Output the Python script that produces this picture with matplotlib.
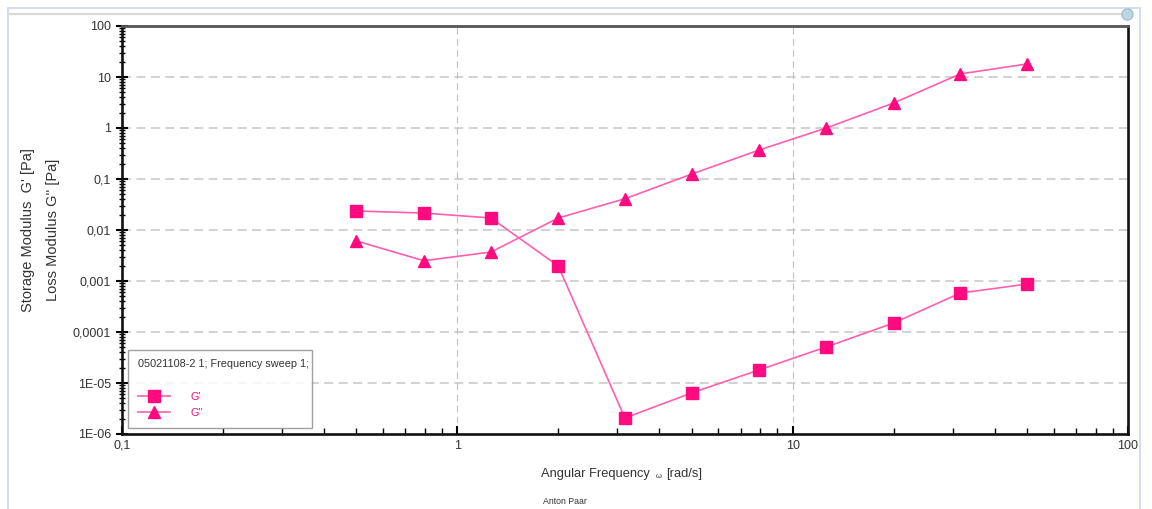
import matplotlib
matplotlib.use("Agg")
import matplotlib.pyplot as plt
from matplotlib.ticker import LogLocator, FixedLocator, FixedFormatter, NullFormatter
from matplotlib.patches import Rectangle

plt.rcParams["font.family"] = ["Liberation Sans", "DejaVu Sans"]

# Frequency sweep data
omega = [0.5, 0.794, 1.26, 2.0, 3.16, 5.0, 7.94, 12.6, 20.0, 31.6, 50.0]
g_storage = [0.0236, 0.0215, 0.0172, 0.00197, 2.06e-6, 6.4e-6, 1.8e-5, 5.1e-5, 1.5e-4, 5.8e-4, 8.7e-4]
g_loss = [0.0061, 0.0025, 0.0037, 0.0172, 0.041, 0.125, 0.37, 1.0, 3.09, 11.5, 18.0]

y_ticks = [1e-6, 1e-5, 1e-4, 1e-3, 1e-2, 1e-1, 1, 10, 100]
y_ticklabels = ["1E-06", "1E-05", "0,0001", "0,001", "0,01", "0,1", "1", "10", "100"]
x_ticks = [0.1, 1, 10, 100]
x_ticklabels = ["0,1", "1", "10", "100"]

pink = "#ff0a7f"
pink_line = "#ff5fae"
txt = "#333333"

fig = plt.figure(figsize=(11.52, 5.09), dpi=100)

# window frame around the chart
fig.patches.append(Rectangle((8 / 1152, -0.01), 1132 / 1152, 1 - 8 / 509 + 0.01,
                             transform=fig.transFigure, fill=False,
                             edgecolor="#c9d8ee", linewidth=1.2))
fig.lines.append(plt.Line2D([10 / 1152, 1125 / 1152], [1 - 14 / 509, 1 - 14 / 509],
                            transform=fig.transFigure, color="#d8d8d8", linewidth=1.5))
fig.lines.append(plt.Line2D([1127 / 1152], [1 - 14 / 509], transform=fig.transFigure,
                            marker="o", markersize=8, markerfacecolor="#bcd6e6",
                            markeredgecolor="#9fbfd3", linestyle="none"))

ax = fig.add_axes([122 / 1152, 1 - 434 / 509, 1006 / 1152, 408 / 509])
ax.set_xscale("log")
ax.set_yscale("log")
ax.set_xlim(0.1, 100)
ax.set_ylim(1e-6, 100)

ax.plot(omega, g_storage, color=pink_line, linewidth=1.2, marker="s", markersize=9,
        markerfacecolor=pink, markeredgecolor=pink, label="G'")
ax.plot(omega, g_loss, color=pink_line, linewidth=1.2, marker="^", markersize=9,
        markerfacecolor=pink, markeredgecolor=pink, label="G''")

# grid: horizontal light dashed, vertical thin dashed
for yv in y_ticks[1:-1]:
    ax.axhline(yv, color="#cfcfcf", linewidth=1.3, linestyle=(0, (5, 3)), zorder=0)
for xv in [1, 10]:
    ax.axvline(xv, color="#c0c0c0", linewidth=0.8, linestyle=(0, (6, 4)), zorder=0)

ax.yaxis.set_major_locator(FixedLocator(y_ticks))
ax.yaxis.set_major_formatter(FixedFormatter(y_ticklabels))
ax.yaxis.set_minor_locator(LogLocator(base=10, subs=range(2, 10), numticks=20))
ax.yaxis.set_minor_formatter(NullFormatter())
ax.xaxis.set_major_locator(FixedLocator(x_ticks))
ax.xaxis.set_major_formatter(FixedFormatter(x_ticklabels))
ax.xaxis.set_minor_locator(LogLocator(base=10, subs=range(2, 10), numticks=20))
ax.xaxis.set_minor_formatter(NullFormatter())

ax.tick_params(axis="y", which="major", direction="inout", length=8, width=1.5,
               labelsize=9, labelcolor=txt, pad=4)
ax.tick_params(axis="y", which="minor", direction="inout", length=4, width=1.0)
ax.tick_params(axis="x", which="major", direction="in", length=6, width=1.5,
               labelsize=9, labelcolor=txt, pad=4)
ax.tick_params(axis="x", which="minor", direction="in", length=4, width=1.0)

for side in ["left", "bottom", "right"]:
    ax.spines[side].set_linewidth(1.9)
    ax.spines[side].set_color("#111111")
ax.spines["top"].set_linewidth(2.0)
ax.spines["top"].set_color("#555555")
ax.spines["top"].set_linestyle((0, (3, 1)))

fig.text(28 / 1152, 1 - 230 / 509, "Storage Modulus  G' [Pa]", rotation=90,
         ha="center", va="center", fontsize=10.5, color=txt)
fig.text(53 / 1152, 1 - 230 / 509, "Loss Modulus G'' [Pa]", rotation=90,
         ha="center", va="center", fontsize=10.5, color=txt)
fig.text(541 / 1152, 1 - 474 / 509, "Angular Frequency", ha="left", va="center",
         fontsize=9.3, color=txt)
fig.text(656 / 1152, 1 - 476 / 509, "\u03c9", ha="left", va="center",
         fontsize=5.5, color=txt)
fig.text(666 / 1152, 1 - 474 / 509, "[rad/s]", ha="left", va="center",
         fontsize=9.3, color=txt)
fig.text(543 / 1152, 1 - 502 / 509, "Anton Paar", ha="left", va="center",
         fontsize=6.3, color=txt)

leg = ax.legend(loc="lower left", bbox_to_anchor=(0.006, 0.015, 0.183, 0.2),
                mode="expand", title="05021108-2 1; Frequency sweep 1;",
                title_fontsize=7.8, fontsize=7.8, frameon=True, fancybox=False,
                edgecolor="#888888", borderpad=0.9, handlelength=3.0,
                handletextpad=1.9, labelspacing=0.6, borderaxespad=0)
leg.get_title().set_color(txt)
leg._legend_box.align = "left"
leg._legend_box.sep = 16
for t in leg.get_texts():
    t.set_color(pink)
leg.get_frame().set_linewidth(1.0)

fig.savefig("out.png", dpi=100)
